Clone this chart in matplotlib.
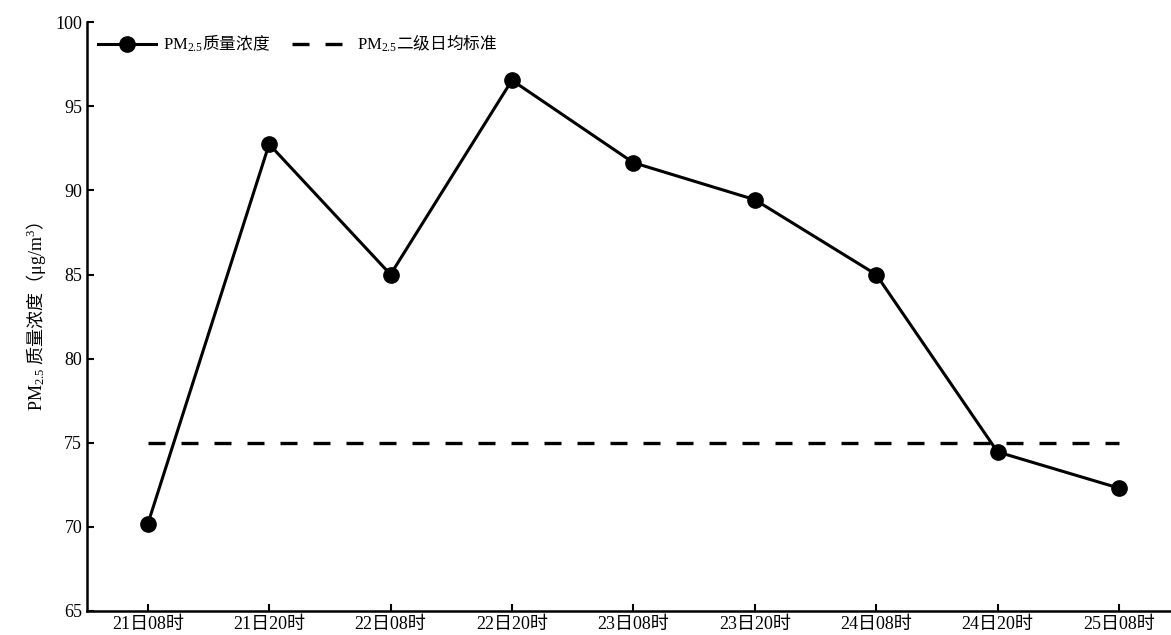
import matplotlib
matplotlib.use("Agg")
import matplotlib.pyplot as plt

plt.rcParams["font.family"] = ["Liberation Serif", "Noto Sans CJK SC"]
# 数学文本: 西文用衬线体, 中文用 \mathsf -> Noto Sans CJK
plt.rcParams["mathtext.fontset"] = "custom"
plt.rcParams["mathtext.rm"] = "Liberation Serif"
plt.rcParams["mathtext.it"] = "Liberation Serif:italic"
plt.rcParams["mathtext.sf"] = "Noto Sans CJK SC"

# 观测时次与PM2.5浓度
times = ["21日08时", "21日20时", "22日08时", "22日20时", "23日08时",
         "23日20时", "24日08时", "24日20时", "25日08时"]
pm25 = [70.15, 92.75, 85.0, 96.55, 91.65, 89.45, 85.0, 74.45, 72.3]
standard = [75] * len(times)

x = list(range(len(times)))

fig = plt.figure(figsize=(11.71, 6.35), dpi=100)
ax = fig.add_axes([0.0743, 0.038, 0.93, 0.927])

ax.plot(x, pm25, "-o", color="black", lw=2.2, markersize=11,
        label=r"$\mathrm{PM}_{\mathrm{2.5}}\mathsf{质量浓度}$")
ax.plot(x, standard, "--", color="black", lw=2.4, dashes=(5.1, 4.8),
        label=r"$\mathrm{PM}_{\mathrm{2.5}}\mathsf{二级日均标准}$")

ax.set_xlim(-0.5, 8.47)
ax.set_ylim(65, 100)
ax.set_xticks(x)
ax.set_xticklabels(times)
ax.set_yticks(range(65, 101, 5))
ax.tick_params(direction="in", labelsize=13, width=1.5, length=5)
for s in ["top", "right"]:
    ax.spines[s].set_visible(False)
for s in ["left", "bottom"]:
    ax.spines[s].set_linewidth(1.8)

ax.set_ylabel(r"$\mathrm{PM}_{\mathrm{2.5}}\ \mathsf{质量浓度（}\mathrm{μg/m}^{\mathrm{3}}\mathsf{）}$",
              fontsize=13, labelpad=5)

ax.legend(loc="upper left", ncol=2, frameon=False, fontsize=12,
          handlelength=3.5, handletextpad=0.4, columnspacing=1.3,
          borderaxespad=0.25)

fig.savefig("out.png")
